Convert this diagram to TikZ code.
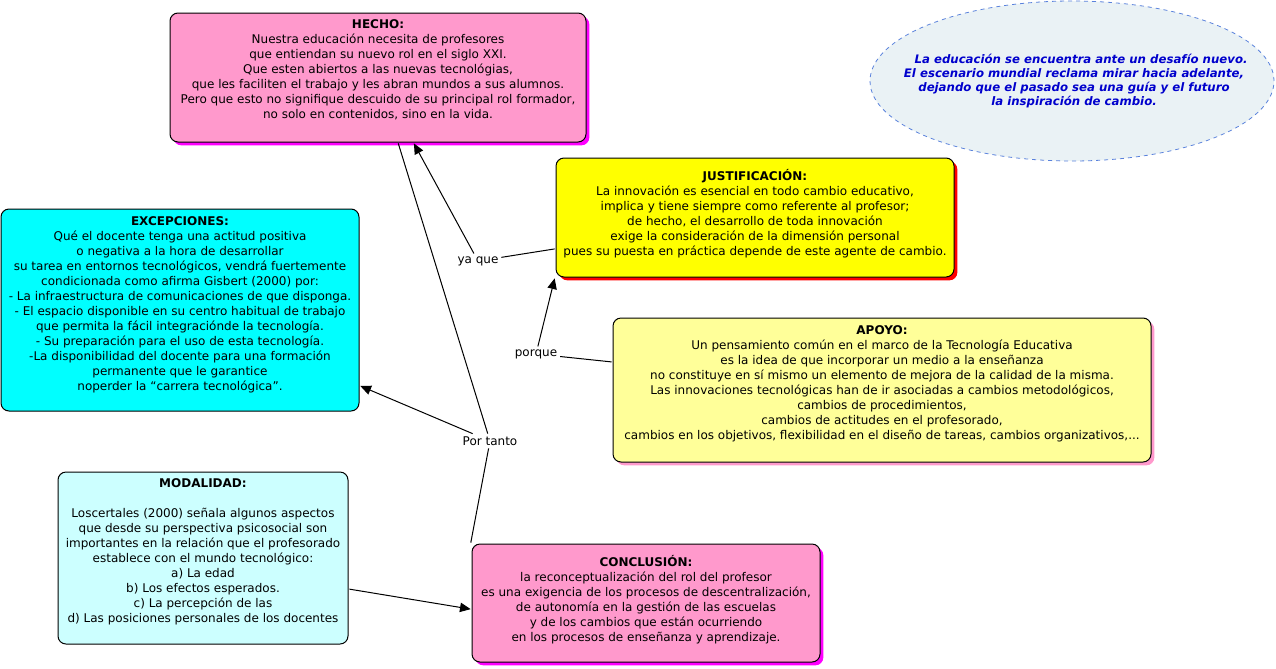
\documentclass[tikz,border=0pt]{standalone}
\usepackage{fontspec}
\setmainfont{DejaVu Sans}
\usetikzlibrary{arrows.meta}
\usetikzlibrary{shadows}
\usetikzlibrary{shapes.geometric}

\definecolor{rosa}{RGB}{255,153,204}
\definecolor{magenta}{RGB}{255,0,255}
\definecolor{amarillo}{RGB}{255,255,0}
\definecolor{rojo}{RGB}{255,0,0}
\definecolor{crema}{RGB}{255,255,153}
\definecolor{celeste}{RGB}{0,255,255}
\definecolor{celesteClaro}{RGB}{204,255,255}
\definecolor{nube}{RGB}{234,242,245}
\definecolor{bordeNube}{RGB}{90,130,220}
\definecolor{azulTexto}{RGB}{0,0,204}

\tikzset{
  concept/.style={draw=black, line width=0.75pt, rounded corners=6pt, inner sep=0pt, outer sep=1pt},
  sombra/.style={drop shadow={shadow xshift=2.5pt, shadow yshift=-2.5pt, fill=#1, opacity=1}},
  conceptText/.style={anchor=north, align=center, inner sep=0.75pt, font=\fontsize{9}{11.25}\selectfont},
  linkText/.style={inner sep=2pt, font=\fontsize{9}{11.25}\selectfont},
  link/.style={line width=0.75pt},
  linkArrow/.style={link, -{Triangle[length=8pt,width=7pt]}},
}

\begin{document}
\begin{tikzpicture}[x=0.75pt,y=0.75pt,yscale=-1,xscale=1]
\useasboundingbox (0,0) rectangle (1276,668);

%Shape: Ellipse [id:nube]
\node[ellipse, draw=bordeNube, dashed, line width=0.6pt, fill=nube, minimum width=303pt, minimum height=120pt, inner sep=0pt] (nube) at (1072,81) {};
% Text Node
\node[align=center, inner sep=0.75pt, text=azulTexto, font=\fontsize{8.8}{10.5}\selectfont\bfseries\itshape] (nubeText) at (1074,81) {\hspace*{1.2em}La educación se encuentra ante un desafío nuevo.\\El escenario mundial reclama mirar hacia adelante,\\dejando que el pasado sea una guía y el futuro\\la inspiración de cambio.};

%Shape: Rounded Rectangle [id:hecho]
\node[concept, sombra=magenta, fill=rosa, minimum width=312pt, minimum height=96.75pt] (hecho) at (378,77.5) {};
% Text Node
\node[conceptText] (hechoText) at (378,18) {\textbf{HECHO:}\\Nuestra educación necesita de profesores\\que entiendan su nuevo rol en el siglo XXI.\\Que esten abiertos a las nuevas tecnológias,\\que les faciliten el trabajo y les abran mundos a sus alumnos.\\Pero que esto no signifique descuido de su principal rol formador,\\no solo en contenidos, sino en la vida.};

%Shape: Rounded Rectangle [id:excepciones]
\node[concept, fill=celeste, minimum width=268.5pt, minimum height=151.5pt] (excepciones) at (180,310) {};
% Text Node
\node[conceptText] (excepcionesText) at (180,215) {\textbf{EXCEPCIONES:}\\Qué el docente tenga una actitud positiva\\o negativa a la hora de desarrollar\\su tarea en entornos tecnológicos, vendrá fuertemente\\condicionada como afirma Gisbert (2000) por:\\- La infraestructura de comunicaciones de que disponga.\\- El espacio disponible en su centro habitual de trabajo\\que permita la fácil integraciónde la tecnología.\\- Su preparación para el uso de esta tecnología.\\-La disponibilidad del docente para una formación\\permanente que le garantice\\noperder la “carrera tecnológica”.};

%Shape: Rounded Rectangle [id:justificacion]
\node[concept, sombra=rojo, fill=amarillo, minimum width=298.5pt, minimum height=89.25pt] (justificacion) at (755,217.5) {};
% Text Node
\node[conceptText] (justificacionText) at (755,168) {\textbf{JUSTIFICACIÓN:}\\La innovación es esencial en todo cambio educativo,\\implica y tiene siempre como referente al profesor;\\de hecho, el desarrollo de toda innovación\\exige la consideración de la dimensión personal\\pues su puesta en práctica depende de este agente de cambio.};

%Shape: Rounded Rectangle [id:apoyo]
\node[concept, sombra=rosa, fill=crema, minimum width=403.5pt, minimum height=108pt] (apoyo) at (882,390) {};
% Text Node
\node[conceptText] (apoyoText) at (882,324) {\textbf{APOYO:}\\Un pensamiento común en el marco de la Tecnología Educativa\\es la idea de que incorporar un medio a la enseñanza\\no constituye en sí mismo un elemento de mejora de la calidad de la misma.\\Las innovaciones tecnológicas han de ir asociadas a cambios metodológicos,\\cambios de procedimientos,\\cambios de actitudes en el profesorado,\\cambios en los objetivos, flexibilidad en el diseño de tareas, cambios organizativos,...};

%Shape: Rounded Rectangle [id:modalidad]
\node[concept, fill=celesteClaro, minimum width=217.5pt, minimum height=129pt] (modalidad) at (203,558) {};
% Text Node
\node[conceptText] (modalidadText) at (203,477) {\textbf{MODALIDAD:}\\[11.25pt]Loscertales (2000) señala algunos aspectos\\que desde su perspectiva psicosocial son\\importantes en la relación que el profesorado\\establece con el mundo tecnológico:\\a) La edad\\b) Los efectos esperados.\\c) La percepción de las\\d) Las posiciones personales de los docentes};

%Shape: Rounded Rectangle [id:conclusion]
\node[concept, sombra=magenta, fill=rosa, minimum width=261pt, minimum height=88.5pt] (conclusion) at (646,603) {};
% Text Node
\node[conceptText] (conclusionText) at (646,554) {\textbf{CONCLUSIÓN:}\\la reconceptualización del rol del profesor\\es una exigencia de los procesos de descentralización,\\de autonomía en la gestión de las escuelas\\y de los cambios que están ocurriendo\\en los procesos de enseñanza y aprendizaje.};

% Link Nodes
\node[linkText] (yaque) at (478,261) {ya que};
\node[linkText] (porque) at (536,354) {porque};
\node[linkText] (portanto) at (490,441) {Por tanto};

%Straight Lines
\draw[link] (portanto) -- (hecho);
\draw[linkArrow] (portanto) -- (excepciones);
\draw[link] (conclusion.161) -- (portanto);
\draw[link] (justificacion) -- (yaque);
\draw[linkArrow] (yaque) -- (hecho);
\draw[link] (apoyo) -- (porque);
\draw[linkArrow] (porque) -- (justificacion.south west);
\draw[linkArrow] (modalidad.-12) -- (conclusion.182);

\end{tikzpicture}
\end{document}
